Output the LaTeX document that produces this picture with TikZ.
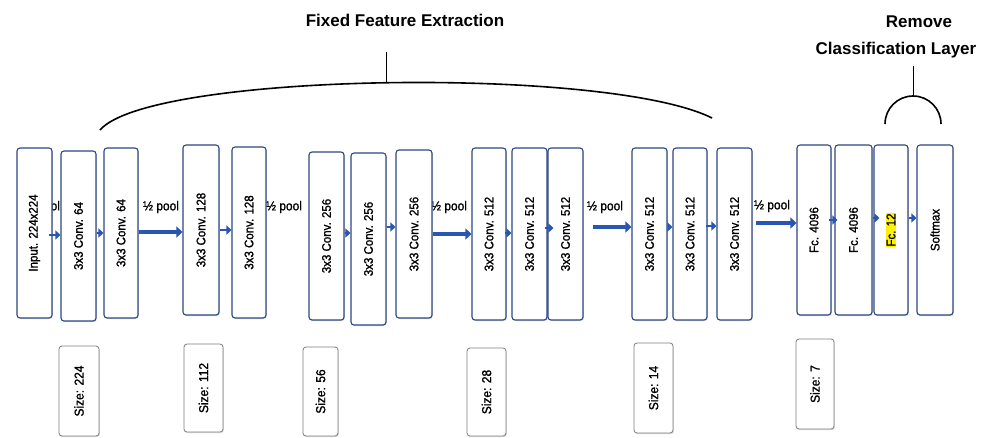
\documentclass[tikz,border=0pt]{standalone}
\usepackage{fontspec}
\usepackage{graphicx}
\setmainfont{Liberation Sans}
\newfontfamily\layerfont[FakeBold=1.3, FakeStretch=0.92]{Liberation Sans}
\usetikzlibrary{arrows.meta,shadows}

\definecolor{edgeblue}{RGB}{45,70,130}
\definecolor{arrowblue}{RGB}{40,86,178}
\definecolor{sizeedge}{RGB}{125,125,125}

\tikzset{
  layer/.style={draw=edgeblue, line width=1.1pt, rounded corners=3pt, fill=white,
    inner sep=0pt, drop shadow={opacity=0.28, shadow xshift=0.8pt, shadow yshift=-1.2pt},
    font=\layerfont\fontsize{12.5}{14}\selectfont},
  sizebox/.style={draw=sizeedge, line width=0.8pt, rounded corners=3pt, fill=white,
    inner sep=0pt, drop shadow={opacity=0.28, shadow xshift=0.8pt, shadow yshift=-1.2pt},
    font=\layerfont\fontsize{13}{14}\selectfont},
  poolnote/.style={font=\layerfont\fontsize{13}{14}\selectfont, inner sep=0pt},
  smallarr/.style={draw=arrowblue, line width=2.4pt, -{Triangle[length=5pt,width=9pt]}},
  bigarr/.style={draw=arrowblue, line width=4pt, -{Triangle[length=6pt,width=11pt]}},
  heading/.style={font=\bfseries\fontsize{17}{20}\selectfont, inner sep=0pt},
  bracket/.style={draw=black, line width=1.6pt},
  stem/.style={draw=black, line width=1pt}
}

% layer box: name, x, y, width, height, text
\newcommand\layerbox[6]{\node[layer, minimum width=#4pt, minimum height=#5pt] (#1) at (#2,#3) {\rotatebox{90}{#6}};}
\newcommand\sizenote[6]{\node[sizebox, minimum width=#4pt, minimum height=#5pt] (#1) at (#2,#3) {\rotatebox{90}{#6}};}

\begin{document}
\begin{tikzpicture}[x=1pt,y=-1pt]
  \path[fill=white] (0,0) rectangle (992,437);
  \useasboundingbox (0,0) rectangle (992,437);

  % pooling notes, partly covered by the layers
  \node[poolnote] (p0) at (42,207) {½ pool};
  \node[poolnote] (p1) at (161,207) {½ pool};
  \node[poolnote] (p2) at (284,207) {½ pool};
  \node[poolnote] (p3) at (449,207) {½ pool};
  \node[poolnote] (p4) at (605,207) {½ pool};
  \node[poolnote] (p5) at (772,206) {½ pool};

  % layers
  \layerbox{in}{34.5}{233}{35}{170}{Input. 224x224}
  \layerbox{ca}{78.5}{236}{35}{170}{3x3 Conv. 64}
  \layerbox{cb}{121}{233}{34}{170}{3x3 Conv. 64}
  \layerbox{cc}{201}{230}{36}{170}{3x3 Conv. 128}
  \layerbox{cd}{249}{232.5}{34}{171}{3x3 Conv. 128}
  \layerbox{ce}{326.5}{236}{35}{168}{3x3 Conv. 256}
  \layerbox{cf}{368.5}{239}{35}{172}{3x3 Conv. 256}
  \layerbox{cg}{414}{234}{36}{168}{3x3 Conv. 256}
  \layerbox{ch}{489}{234}{34}{172}{3x3 Conv. 512}
  \layerbox{ci}{529.5}{234}{35}{172}{3x3 Conv. 512}
  \layerbox{cj}{565.5}{234}{35}{172}{3x3 Conv. 512}
  \layerbox{ck}{649.5}{234}{35}{172}{3x3 Conv. 512}
  \layerbox{cl}{690}{234}{34}{172}{3x3 Conv. 512}
  \layerbox{cm}{734.5}{234}{35}{172}{3x3 Conv. 512}
  \layerbox{fa}{814}{230}{34}{170}{Fc. 4096}
  \layerbox{fb}{853.5}{230}{37}{170}{Fc. 4096}
  \layerbox{fc}{891}{230}{34}{170}{\setlength\fboxsep{0.8pt}\colorbox{yellow}{Fc. 12}}
  \layerbox{sm}{935}{230}{36}{170}{Softmax}

  % feature map sizes
  \sizenote{sa}{79}{391}{40}{90}{Size: 224}
  \sizenote{sb}{203.5}{388}{39}{88}{Size: 112}
  \sizenote{sc}{320.5}{391.5}{35}{89}{Size: 56}
  \sizenote{sd}{486.5}{392}{39}{88}{Size: 28}
  \sizenote{se}{653.5}{388}{39}{90}{Size: 14}
  \sizenote{sf}{815}{384}{38}{90}{Size: 7}

  % connections between layers
  \draw[smallarr] ([xshift=-4pt]in.east |- 0,235) -- (ca.west |- 0,235);
  \draw[smallarr] (ca.east |- 0,233) -- (cb.west |- 0,233);
  \draw[bigarr]   (cb.east |- 0,232) -- (cc.west |- 0,232);
  \draw[smallarr] (cc.east |- 0,230) -- (cd.west |- 0,230);
  \draw[smallarr] (ce.east |- 0,233) -- (cf.west |- 0,233);
  \draw[smallarr] (cf.east |- 0,227) -- (cg.west |- 0,227);
  \draw[bigarr]   (cg.east |- 0,234) -- (ch.west |- 0,234);
  \draw[smallarr] ([xshift=-2pt]ch.east |- 0,233) -- (ci.west |- 0,233);
  \draw[smallarr] ([xshift=-3pt]ci.east |- 0,228) -- ([xshift=6pt]cj.west |- 0,228);
  \draw[bigarr]   ([xshift=9pt]cj.east |- 0,227) -- (ck.west |- 0,227);
  \draw[smallarr] (ck.east |- 0,227) -- (cl.west |- 0,227);
  \draw[smallarr] ([xshift=-2pt]cl.east |- 0,226) -- (cm.west |- 0,226);
  \draw[bigarr]   ([xshift=3pt]cm.east |- 0,223) -- (fa.west |- 0,223);
  \draw[smallarr] ([xshift=-3pt]fa.east |- 0,220) -- ([xshift=3pt]fb.west |- 0,220);
  \draw[smallarr] (fb.east |- 0,218) -- ([xshift=6pt]fc.west |- 0,218);
  \draw[smallarr] (fc.east |- 0,218) -- (sm.west |- 0,218);

  % fixed feature extraction bracket
  \coordinate (fxleft) at (100,130);
  \coordinate (fxright) at (712,118);
  \coordinate (fxpeak) at (386,82.5);
  \coordinate (fxtop) at (386,52);
  \draw[bracket] (fxleft) .. controls (150,72) and (608,66) .. (fxright);
  \draw[stem] (fxpeak) -- (fxtop);
  \node[heading] (fxtitle) at (405,20) {Fixed Feature Extraction};

  % removed classification layer
  \coordinate (rmleft) at (885,124);
  \coordinate (rmpeak) at (913,96);
  \coordinate (rmtop) at (913,66);
  \draw[bracket] (rmleft) arc[start angle=180, end angle=360, radius=28];
  \draw[stem] (rmpeak) -- (rmtop);
  \node[heading] (rmtitle) at (919,22) {Remove};
  \node[heading] (clstitle) at (896,50) {Classification Layer};
\end{tikzpicture}
\end{document}
